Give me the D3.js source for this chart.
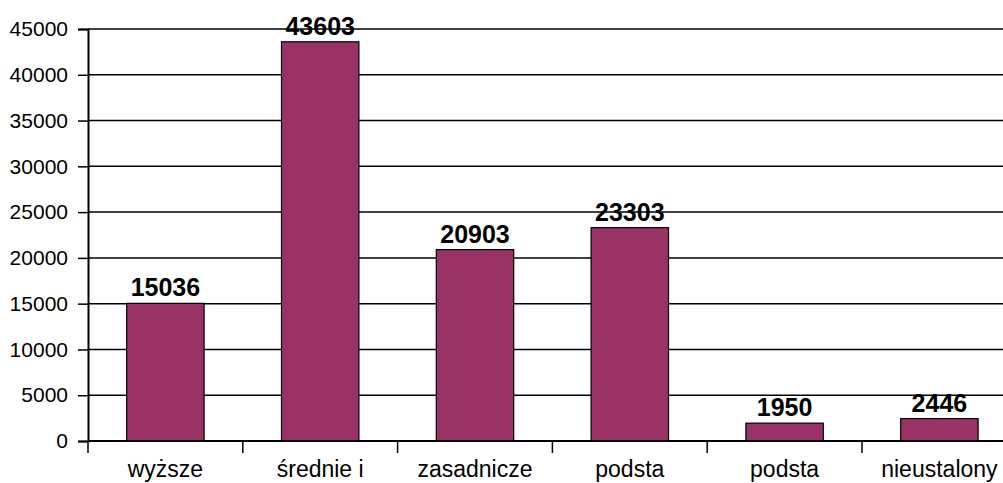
<!DOCTYPE html>
<html>
<head>
<meta charset="utf-8">
<script src="https://cdn.jsdelivr.net/npm/d3@7"></script>
<style>
  body { margin: 0; background: #fff; overflow: hidden; }
  svg { display: block; font-family: "Liberation Sans", Arial, sans-serif; }
</style>
</head>
<body>
<div id="chart"></div>
<script>
// data
var categories = ['wyższe', 'średnie i', 'zasadnicze', 'podsta', 'podsta', 'nieustalony'];
var values = [15036, 43603, 20903, 23303, 1950, 2446];
var yTicks = [0, 5000, 10000, 15000, 20000, 25000, 30000, 35000, 40000, 45000];

var width = 1003, height = 483;
var plotLeft = 88, plotTop = 29, plotBottom = 441;
var step = 154.8;

var svg = d3.select('#chart').append('svg')
	.attr('width', width)
	.attr('height', height);

var x = d3.scaleBand()
	.domain(d3.range(categories.length))
	.range([plotLeft, plotLeft + step * categories.length])
	.paddingInner(0.5)
	.paddingOuter(0.25);

var y = d3.scaleLinear()
	.domain([0, 45000])
	.range([plotBottom, plotTop]);

// horizontal grid lines
svg.append('g').selectAll('line')
	.data(yTicks.slice(1))
	.enter().append('line')
	.attr('x1', plotLeft).attr('x2', width)
	.attr('y1', function (d) { return y(d); })
	.attr('y2', function (d) { return y(d); })
	.attr('stroke', '#000')
	.attr('stroke-width', 1.5);

// y axis
var yAxis = svg.append('g')
	.attr('transform', 'translate(' + plotLeft + ',0)')
	.call(d3.axisLeft(y).tickValues(yTicks).tickSize(10).tickPadding(10).tickFormat(d3.format('d')));
yAxis.select('.domain').attr('stroke', '#000').attr('stroke-width', 2);
yAxis.selectAll('.tick line').attr('stroke', '#000').attr('stroke-width', 1.5);
yAxis.selectAll('.tick text').attr('font-size', 21).attr('fill', '#000')
	.attr('font-family', '"Liberation Sans", Arial, sans-serif');

// bars
svg.append('g').selectAll('rect')
	.data(values)
	.enter().append('rect')
	.attr('x', function (d, i) { return x(i); })
	.attr('y', function (d) { return y(d); })
	.attr('width', x.bandwidth())
	.attr('height', function (d) { return plotBottom - y(d); })
	.attr('fill', '#993366')
	.attr('stroke', '#000')
	.attr('stroke-width', 1.2);

// x axis line
svg.append('line')
	.attr('x1', plotLeft).attr('x2', width)
	.attr('y1', plotBottom).attr('y2', plotBottom)
	.attr('stroke', '#000').attr('stroke-width', 2);

// x ticks between categories
svg.append('g').selectAll('line')
	.data(d3.range(categories.length))
	.enter().append('line')
	.attr('x1', function (d) { return plotLeft + d * step; })
	.attr('x2', function (d) { return plotLeft + d * step; })
	.attr('y1', plotBottom).attr('y2', plotBottom + 12)
	.attr('stroke', '#000').attr('stroke-width', 1.5);

// category labels
svg.append('g').selectAll('text')
	.data(categories)
	.enter().append('text')
	.attr('x', function (d, i) { return x(i) + x.bandwidth() / 2; })
	.attr('y', 477)
	.attr('text-anchor', 'middle')
	.attr('font-size', 23)
	.text(function (d) { return d; });

// value labels
svg.append('g').selectAll('text')
	.data(values)
	.enter().append('text')
	.attr('x', function (d, i) { return x(i) + x.bandwidth() / 2; })
	.attr('y', function (d) { return y(d) - 7; })
	.attr('text-anchor', 'middle')
	.attr('font-size', 25)
	.attr('font-weight', 'bold')
	.text(function (d) { return d; });
</script>
</body>
</html>
